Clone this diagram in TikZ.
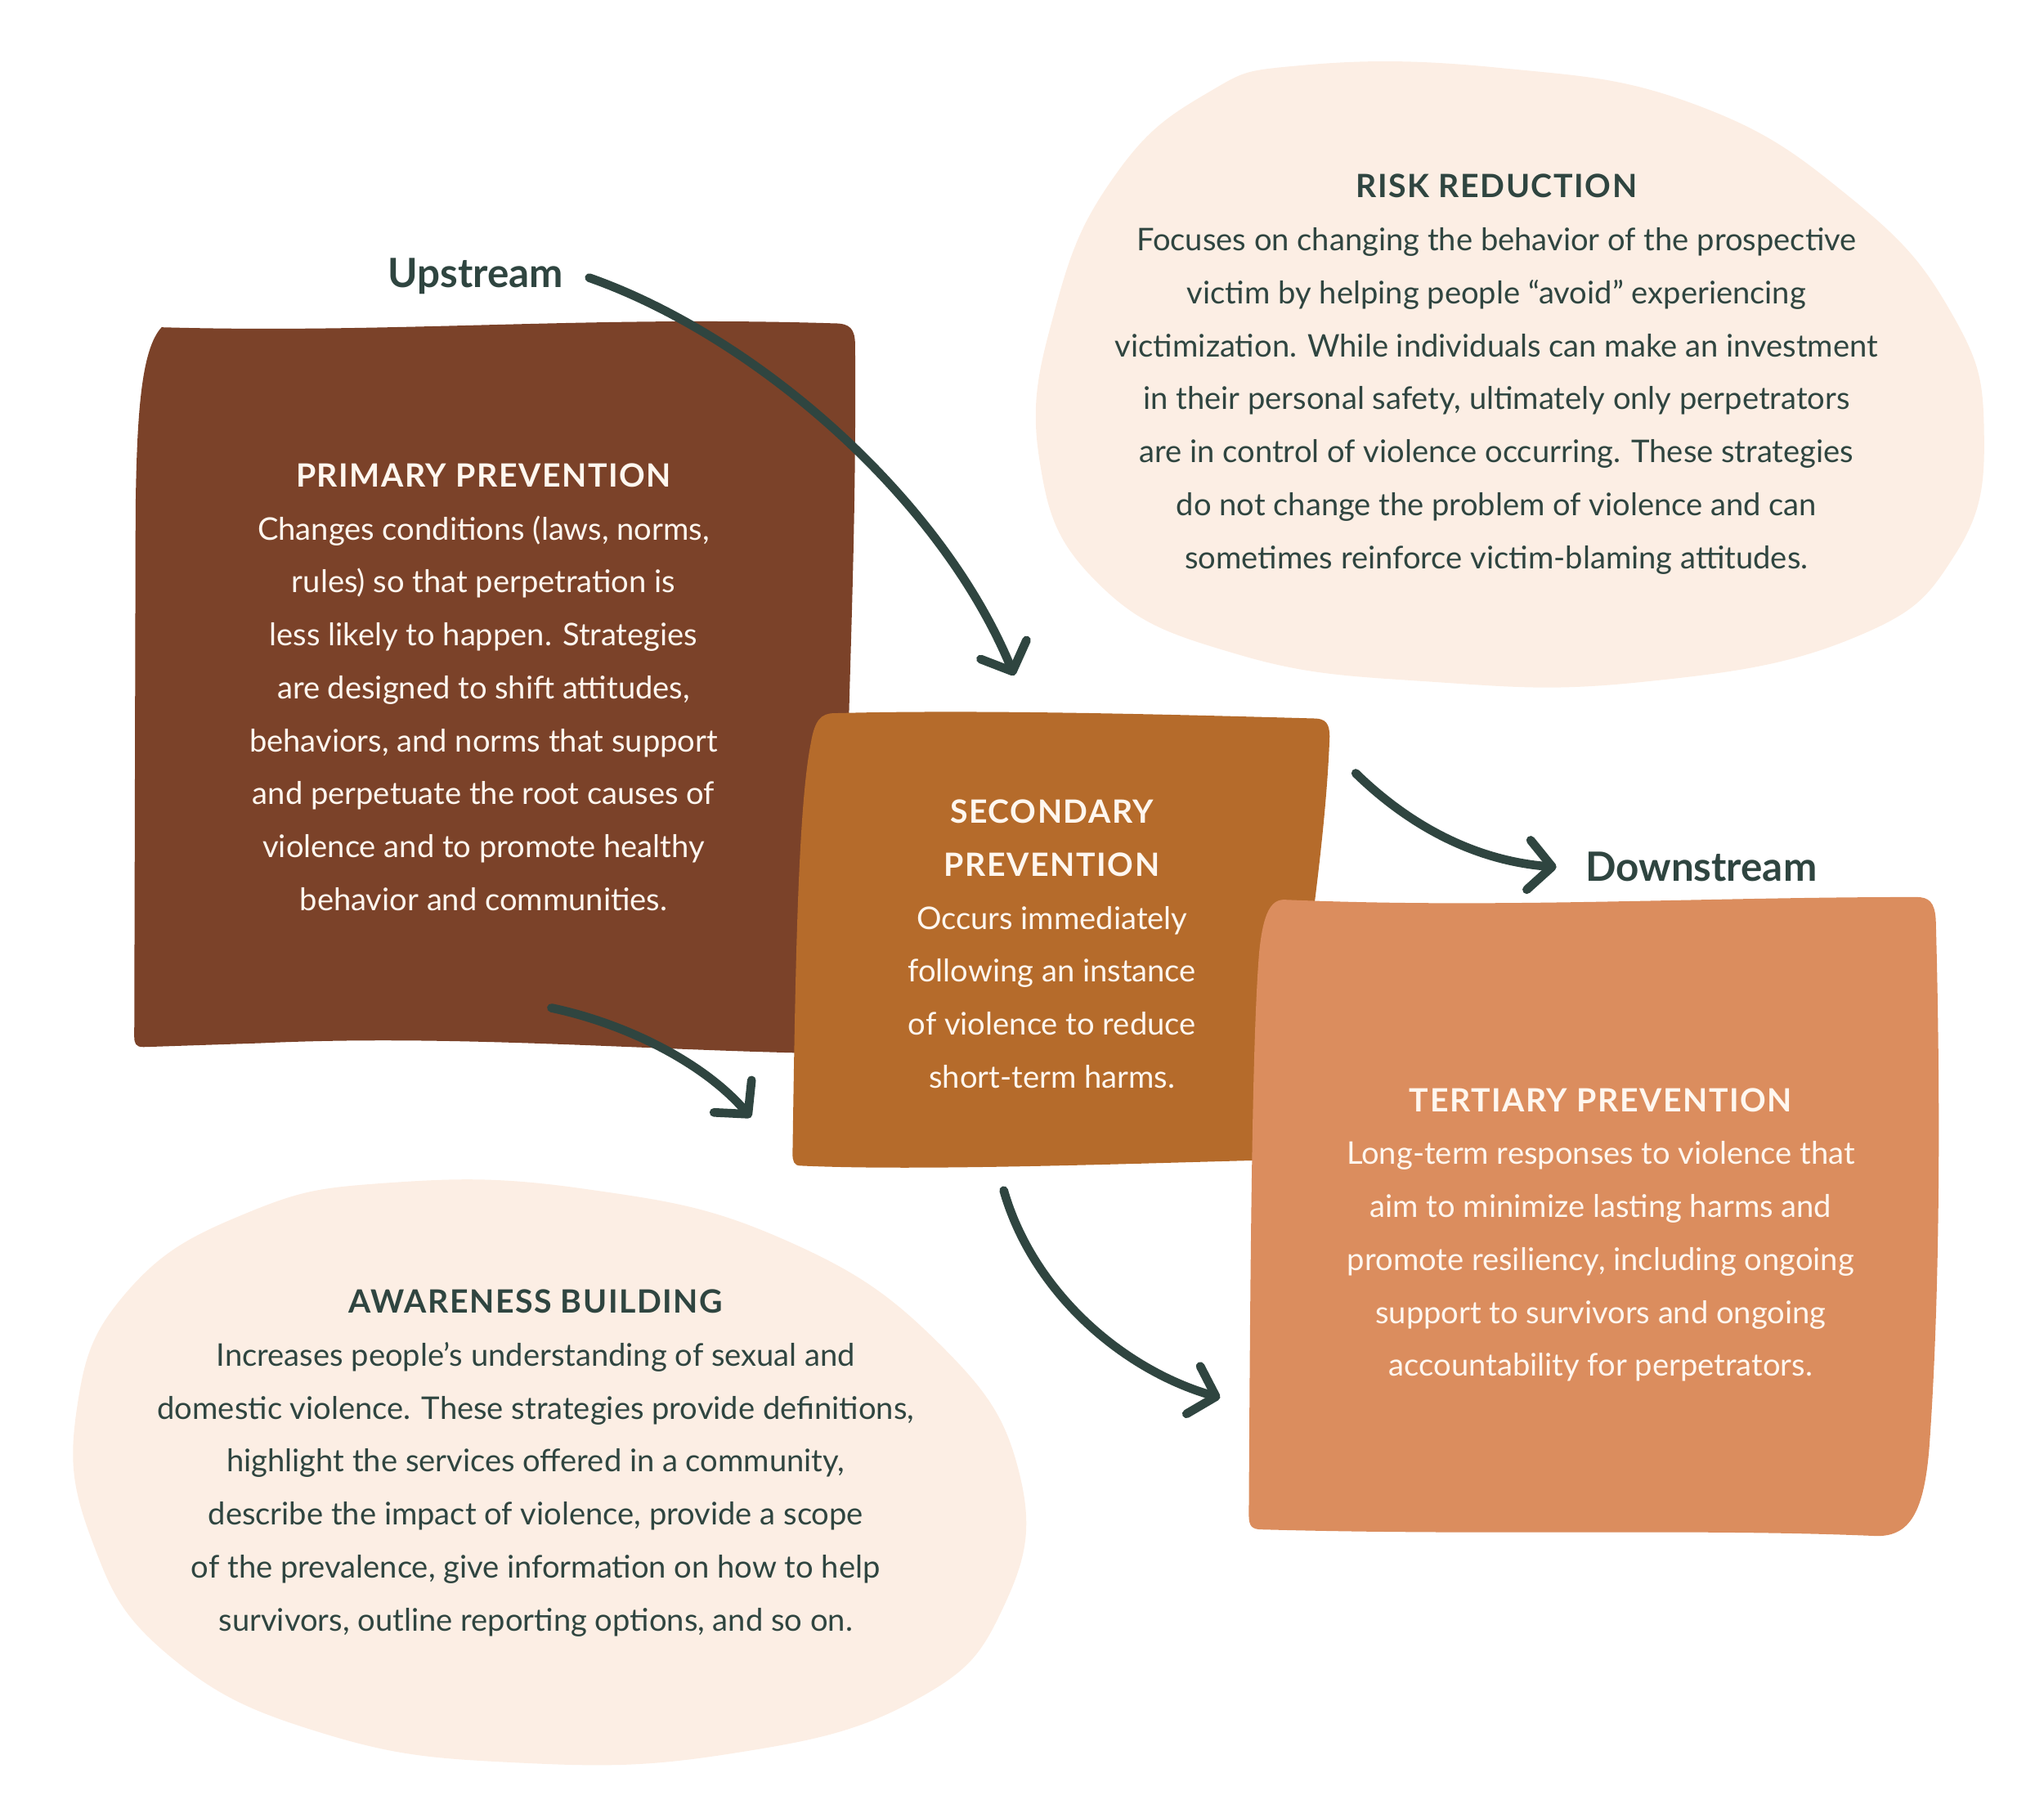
\documentclass[tikz,border=0pt]{standalone}
\usepackage{fontspec}
\setmainfont{Lato}
\newfontfamily\headfont{Lato}[LetterSpace=4]
\usepackage{tikz}
\usetikzlibrary{arrows.meta,positioning}
\definecolor{primBrown}{HTML}{7B4229}
\definecolor{secOchre}{HTML}{B56B2B}
\definecolor{terSalmon}{HTML}{DB8D5E}
\definecolor{blobCream}{HTML}{FCEEE4}
\definecolor{slateInk}{HTML}{2F4540}
\definecolor{creamText}{HTML}{FFF7EF}
\tikzset{
  boxtext/.style={align=center, text=creamText, font=\fontsize{6.8}{11.55}\selectfont, inner sep=0pt},
  blobtext/.style={align=center, text=slateInk, font=\fontsize{6.8}{11.55}\selectfont, inner sep=0pt},
  streamlabel/.style={text=slateInk, font=\bfseries\fontsize{8.8}{10}\selectfont, inner sep=0pt},
  flowarrow/.style={draw=slateInk, line width=1.9pt, line cap=round, -{Straight Barb[length=1.8mm, width=3.8mm, round]}},
}
\newcommand{\heading}[1]{{\headfont\bfseries\fontsize{7}{11.55}\selectfont #1}}

\begin{document}
\begin{tikzpicture}[x=0.01cm, y=-0.01cm]
\useasboundingbox (0,0) rectangle (1568,1394);
% background blobs
\fill[blobCream] plot[smooth cycle, tension=0.75] coordinates {(1000,50) (1150,52) (1300,80) (1420,152) (1497,240) (1522,330) (1500,425) (1420,490) (1260,523) (1100,523) (950,502) (842,447) (797,350) (810,235) (855,135) (925,72)};
\fill[blobCream] plot[smooth cycle, tension=0.75] coordinates {(300,907) (450,912) (600,950) (720,1030) (782,1130) (770,1232) (700,1305) (560,1345) (400,1352) (250,1330) (130,1270) (70,1180) (59,1080) (98,990) (190,930)};
% prevention boxes
\fill[primBrown] (124,251) .. controls (300,256) and (450,242) .. (640,248)
  .. controls (652,248) and (656,252) .. (656,265)
  .. controls (657,400) and (652,500) .. (650,600) -- (640,808)
  .. controls (500,806) and (350,793) .. (200,800) -- (110,803)
  .. controls (104,803) and (103,800) .. (103,795)
  -- (104,390) .. controls (105,320) and (108,268) .. (124,251) -- cycle;
\fill[secOchre] (640,547) .. controls (750,544) and (900,548) .. (1008,551)
  .. controls (1017,551) and (1020,555) .. (1020,565)
  .. controls (1018,620) and (1010,680) .. (1005,720) -- (1000,888)
  -- (960,890) .. controls (850,893) and (700,898) .. (614,894)
  .. controls (609,894) and (608,890) .. (608,885)
  .. controls (610,750) and (612,620) .. (622,570)
  .. controls (625,552) and (630,547) .. (640,547) -- cycle;
\fill[terSalmon] (985,690) .. controls (1150,697) and (1300,688) .. (1470,688)
  .. controls (1480,688) and (1484,692) .. (1485,705)
  .. controls (1489,850) and (1488,1000) .. (1480,1110)
  .. controls (1476,1160) and (1465,1178) .. (1440,1178)
  .. controls (1300,1172) and (1150,1178) .. (968,1173)
  .. controls (960,1173) and (958,1170) .. (958,1162)
  .. controls (959,1000) and (960,800) .. (966,730)
  .. controls (969,700) and (975,690) .. (985,690) -- cycle;

\node[streamlabel] (up) at (365,212) {Upstream};
\node[streamlabel] (down) at (1305,665) {Downstream};

\node[boxtext] (primText) at (371,527) {\heading{PRIMARY PREVENTION}\\
Changes conditions (laws, norms,\\ rules) so that perpetration is\\ less likely to happen. Strategies\\ are designed to shift attitudes,\\ behaviors, and norms that support\\ and perpetuate the root causes of\\ violence and to promote healthy\\ behavior and communities.};
\node[boxtext] (secText) at (807,724) {\heading{SECONDARY}\\ \heading{PREVENTION}\\
Occurs immediately\\ following an instance\\ of violence to reduce\\ short-term harms.};
\node[boxtext] (terText) at (1228,947) {\heading{TERTIARY PREVENTION}\\
Long-term responses to violence that\\ aim to minimize lasting harms and\\ promote resiliency, including ongoing\\ support to survivors and ongoing\\ accountability for perpetrators.};
\node[blobtext] (riskText) at (1148,287) {\heading{RISK REDUCTION}\\
Focuses on changing the behavior of the prospective\\ victim by helping people “avoid” experiencing\\ victimization. While individuals can make an investment\\ in their personal safety, ultimately only perpetrators\\ are in control of violence occurring. These strategies\\ do not change the problem of violence and can\\ sometimes reinforce victim-blaming attitudes.};
\node[blobtext] (awareText) at (411,1122) {\heading{AWARENESS BUILDING}\\
Increases people’s understanding of sexual and\\ domestic violence. These strategies provide definitions,\\ highlight the services offered in a community,\\ describe the impact of violence, provide a scope\\ of the prevalence, give information on how to help\\ survivors, outline reporting options, and so on.};

\coordinate (upStart) at (452,213);
\coordinate (upEnd) at (778,518);
\coordinate (primStart) at (423,773);
\coordinate (primEnd) at (576,857);
\coordinate (downStart) at (1040,593);
\coordinate (downEnd) at (1194,665);
\coordinate (terStart) at (770,913);
\coordinate (terEnd) at (936,1072);
\draw[flowarrow] (upStart) .. controls (580,258) and (722,382) .. (upEnd);
\draw[flowarrow] (primStart) .. controls (480,785) and (540,815) .. (primEnd);
\draw[flowarrow] (downStart) .. controls (1080,632) and (1130,660) .. (downEnd);
\draw[flowarrow] (terStart) .. controls (792,990) and (860,1050) .. (terEnd);
\end{tikzpicture}
\end{document}
